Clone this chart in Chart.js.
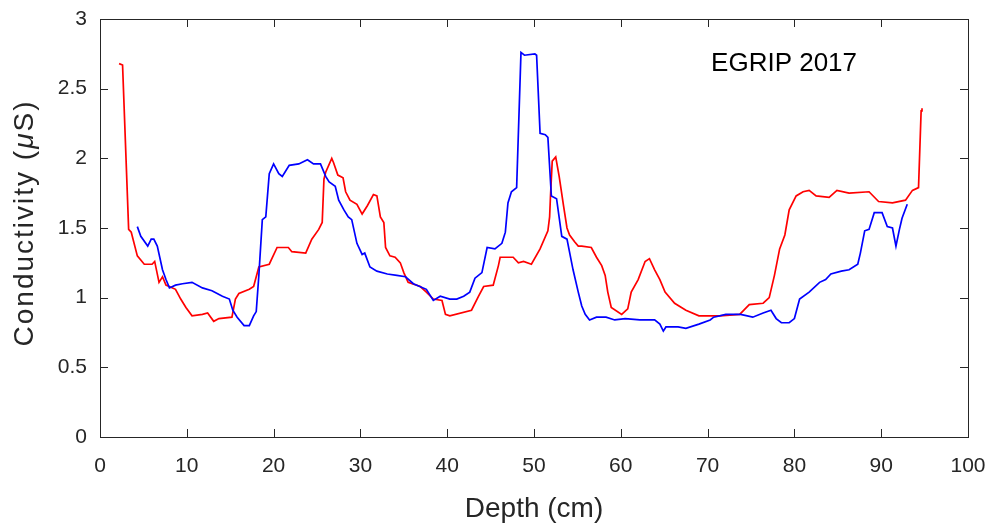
<!DOCTYPE html>
<html>
<head>
<meta charset="utf-8">
<script src="https://cdn.jsdelivr.net/npm/chart.js@4/dist/chart.umd.min.js"></script>
<style>
  body { margin: 0; background: #fff; }
  #wrap { width: 993px; height: 527px; }
</style>
</head>
<body>
<div id="wrap"><canvas id="chart"></canvas></div>
<script>
// conductivity profiles
const redDepth = [2.2, 2.6, 3.3, 3.6, 4.3, 5.1, 6.0, 6.3, 6.8, 7.2, 7.6, 8.7, 9.3, 9.9, 10.6, 11.8, 12.4, 13.1, 13.7, 15.2,
    15.6, 16.0, 17.2, 17.7, 18.3, 19.5, 20.4, 21.7, 22.1, 23.7, 24.4, 25.2, 25.6, 25.8, 26.0, 26.7, 26.9, 27.4, 28.0, 28.3,
    28.8, 29.6, 30.2, 30.8, 31.5, 31.9, 32.3, 32.7, 32.9, 33.4, 34.0, 34.6, 35.0, 35.5, 36.9, 37.6, 38.4, 39.4, 39.8, 40.3,
    42.8, 43.6, 44.2, 45.3, 45.9, 46.1, 47.6, 48.2, 48.8, 49.7, 50.7, 51.6, 51.8, 51.9, 52.1, 52.5, 52.9, 53.4, 53.8, 54.1,
    54.7, 55.1, 55.5, 56.6, 57.2, 57.8, 58.2, 58.5, 58.9, 60.1, 60.8, 61.2, 62.0, 62.8, 63.3, 63.9, 64.5, 65.1, 66.2, 67.5,
    69.0, 71.4, 73.7, 74.8, 76.4, 77.1, 77.7, 78.3, 78.9, 79.4, 80.2, 81.0, 81.7, 82.5, 84.0, 84.9, 86.3, 88.6, 89.7, 91.3,
    92.8, 93.6, 94.3, 94.6, 94.7];
const redCond = [2.68, 2.67, 1.49, 1.47, 1.30, 1.24, 1.24, 1.26, 1.11, 1.15, 1.09, 1.06, 0.99, 0.93, 0.87, 0.88, 0.89, 0.83, 0.85, 0.86,
    0.99, 1.03, 1.06, 1.08, 1.22, 1.24, 1.36, 1.36, 1.33, 1.32, 1.42, 1.49, 1.54, 1.85, 1.90, 2.00, 1.97, 1.88, 1.86, 1.76,
    1.70, 1.67, 1.60, 1.66, 1.74, 1.73, 1.58, 1.54, 1.36, 1.30, 1.29, 1.25, 1.18, 1.11, 1.08, 1.04, 0.99, 0.98, 0.88, 0.87,
    0.91, 1.01, 1.08, 1.09, 1.23, 1.29, 1.29, 1.25, 1.26, 1.24, 1.35, 1.48, 1.58, 1.73, 1.98, 2.01, 1.87, 1.66, 1.50, 1.45,
    1.40, 1.37, 1.37, 1.36, 1.29, 1.23, 1.16, 1.04, 0.93, 0.88, 0.92, 1.04, 1.13, 1.26, 1.28, 1.20, 1.13, 1.04, 0.96, 0.91,
    0.87, 0.87, 0.88, 0.95, 0.96, 1.00, 1.16, 1.35, 1.45, 1.63, 1.73, 1.76, 1.77, 1.73, 1.72, 1.77, 1.75, 1.76, 1.69, 1.68,
    1.70, 1.77, 1.79, 2.34, 2.36];

const blueDepth = [4.3, 4.7, 5.5, 5.9, 6.2, 6.6, 7.2, 7.6, 8.0, 8.7, 9.5, 10.6, 11.8, 12.9, 14.1, 14.9, 15.3, 15.8, 16.6, 17.2,
    17.7, 18.0, 18.3, 18.7, 19.1, 19.5, 20.0, 20.6, 21.0, 21.8, 22.9, 23.9, 24.6, 25.4, 26.0, 26.4, 27.1, 27.5, 28.1, 28.6,
    29.0, 29.6, 30.2, 30.5, 31.1, 31.9, 33.1, 34.2, 35.2, 36.1, 37.6, 38.4, 39.2, 40.3, 41.1, 41.9, 42.6, 43.2, 44.0, 44.6,
    45.5, 46.3, 46.7, 47.0, 47.4, 48.0, 48.5, 48.9, 50.1, 50.3, 50.7, 51.3, 51.6, 51.8, 52.0, 52.6, 53.2, 53.8, 54.5, 55.1,
    55.5, 55.9, 56.4, 57.2, 58.3, 59.3, 60.5, 62.2, 63.9, 64.5, 64.9, 65.2, 66.6, 67.5, 69.0, 70.3, 70.7, 72.1, 73.8, 75.2,
    76.4, 77.3, 77.9, 78.5, 79.4, 80.0, 80.6, 81.7, 82.9, 83.6, 84.2, 85.4, 86.3, 87.3, 87.6, 88.1, 88.6, 89.2, 90.1, 90.7,
    91.3, 91.7, 92.1, 92.4, 93.0];
const blueCond = [1.51, 1.44, 1.37, 1.42, 1.42, 1.37, 1.20, 1.13, 1.07, 1.09, 1.10, 1.11, 1.07, 1.05, 1.01, 0.99, 0.91, 0.86, 0.80, 0.80,
    0.87, 0.90, 1.16, 1.56, 1.58, 1.89, 1.96, 1.89, 1.87, 1.95, 1.96, 1.99, 1.96, 1.96, 1.87, 1.83, 1.80, 1.70, 1.63, 1.58,
    1.56, 1.39, 1.31, 1.32, 1.22, 1.19, 1.17, 1.16, 1.15, 1.10, 1.06, 0.98, 1.01, 0.99, 0.99, 1.01, 1.04, 1.14, 1.18, 1.36,
    1.35, 1.39, 1.47, 1.68, 1.76, 1.79, 2.76, 2.74, 2.75, 2.74, 2.18, 2.17, 2.15, 1.94, 1.73, 1.71, 1.44, 1.42, 1.20, 1.04,
    0.94, 0.88, 0.84, 0.86, 0.86, 0.84, 0.85, 0.84, 0.84, 0.81, 0.76, 0.79, 0.79, 0.78, 0.81, 0.84, 0.86, 0.88, 0.88, 0.86,
    0.89, 0.91, 0.85, 0.82, 0.82, 0.85, 0.99, 1.04, 1.11, 1.13, 1.17, 1.19, 1.20, 1.24, 1.32, 1.48, 1.49, 1.61, 1.61, 1.51,
    1.50, 1.37, 1.49, 1.57, 1.67];

const xTicks = [0, 10, 20, 30, 40, 50, 60, 70, 80, 90, 100];
const yTicks = [0, 0.5, 1, 1.5, 2, 2.5, 3];
const labelText = 'EGRIP 2017';

const axisColor = '#262626';
const fontFamily = '"Liberation Sans", Arial, Helvetica, sans-serif';

function toPoints(xs, ys) {
    return xs.map((x, i) => ({ x: x, y: ys[i] }));
}

// MATLAB style box with inward ticks on all four sides
const boxPlugin = {
    id: 'box',
    afterDatasetsDraw(chart) {
        const { ctx, chartArea: a, scales: { x, y } } = chart;
        const len = 8;
        ctx.save();
        ctx.strokeStyle = axisColor;
        ctx.lineWidth = 1;
        ctx.beginPath();
        xTicks.forEach(t => {
            const px = Math.round(x.getPixelForValue(t)) + 0.5;
            ctx.moveTo(px, a.bottom); ctx.lineTo(px, a.bottom - len);
            ctx.moveTo(px, a.top); ctx.lineTo(px, a.top + len);
        });
        yTicks.forEach(t => {
            const py = Math.round(y.getPixelForValue(t)) + 0.5;
            ctx.moveTo(a.left, py); ctx.lineTo(a.left + len, py);
            ctx.moveTo(a.right, py); ctx.lineTo(a.right - len, py);
        });
        ctx.stroke();
        ctx.strokeRect(Math.round(a.left) + 0.5, Math.round(a.top) + 0.5,
            Math.round(a.right - a.left), Math.round(a.bottom - a.top));

        // annotation
        ctx.fillStyle = '#000';
        ctx.font = '26px ' + fontFamily;
        ctx.textAlign = 'left';
        ctx.textBaseline = 'middle';
        ctx.fillText(labelText, x.getPixelForValue(70.4), y.getPixelForValue(2.68));

        // y title with italic mu
        ctx.translate(25, (a.top + a.bottom) / 2 - 5);
        ctx.rotate(-Math.PI / 2);
        ctx.fillStyle = axisColor;
        ctx.letterSpacing = '2px';
        const normal = '28px ' + fontFamily;
        const italic = 'italic 28px ' + fontFamily;
        const parts = [['Conductivity (', normal], ['\u03bc', italic], ['S)', normal]];
        let total = 0;
        parts.forEach(p => { ctx.font = p[1]; total += ctx.measureText(p[0]).width; });
        let cx = -total / 2;
        parts.forEach(p => {
            ctx.font = p[1];
            ctx.fillText(p[0], cx, 0);
            cx += ctx.measureText(p[0]).width;
        });
        ctx.restore();
    }
};

new Chart(document.getElementById('chart'), {
    type: 'scatter',
    data: {
        datasets: [{
            data: toPoints(blueDepth, blueCond),
            borderColor: '#0000ff',
            borderWidth: 1.7,
            showLine: true,
            pointRadius: 0,
            tension: 0
        }, {
            data: toPoints(redDepth, redCond),
            borderColor: '#ff0000',
            borderWidth: 1.7,
            showLine: true,
            pointRadius: 0,
            tension: 0
        }]
    },
    options: {
        responsive: true,
        maintainAspectRatio: false,
        animation: false,
        layout: { padding: { left: 0, top: 19, right: 25, bottom: 0 } },
        plugins: {
            legend: { display: false },
            tooltip: { enabled: false }
        },
        scales: {
            x: {
                type: 'linear',
                min: 0,
                max: 100,
                afterBuildTicks: s => { s.ticks = xTicks.map(v => ({ value: v })); },
                afterFit: s => { s.height = 90; s.paddingLeft = 0; s.paddingRight = 0; },
                grid: { display: false, drawTicks: false },
                border: { display: false },
                ticks: {
                    color: axisColor,
                    padding: 17,
                    maxRotation: 0,
                    font: { family: fontFamily, size: 21 },
                    callback: v => String(v)
                },
                title: {
                    display: true,
                    text: 'Depth (cm)',
                    color: axisColor,
                    font: { family: fontFamily, size: 28 },
                    padding: { top: 0, bottom: 1 }
                }
            },
            y: {
                type: 'linear',
                min: 0,
                max: 3,
                afterBuildTicks: s => { s.ticks = yTicks.map(v => ({ value: v })); },
                afterFit: s => { s.width = 100; s.paddingTop = 0; s.paddingBottom = 0; },
                grid: { display: false, drawTicks: false },
                border: { display: false },
                ticks: {
                    color: axisColor,
                    padding: 13,
                    font: { family: fontFamily, size: 21 },
                    callback: v => String(v)
                }
            }
        }
    },
    plugins: [boxPlugin]
});
</script>
</body>
</html>
